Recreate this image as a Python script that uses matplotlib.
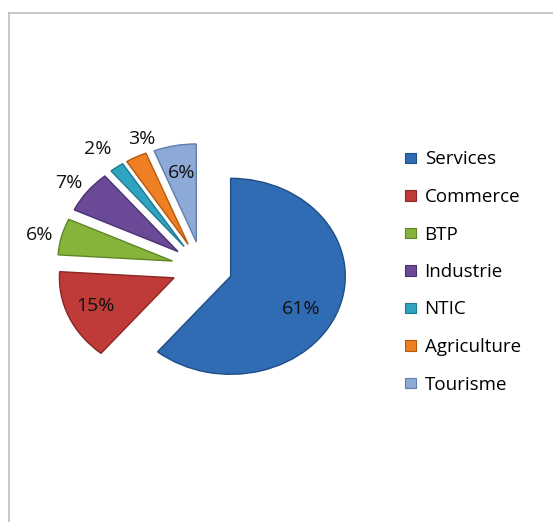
import matplotlib.pyplot as plt
from matplotlib.lines import Line2D
import numpy as np

secteurs = ['Services', 'Commerce', 'BTP', 'Industrie', 'NTIC', 'Agriculture', 'Tourisme']
parts = [61, 15, 6, 7, 2, 3, 6]
couleurs = ['#2F6CB4', '#BE3B38', '#86B43A', '#6A4A97', '#2FA3C0', '#EE7F22', '#8DAAD6']
bords = ['#1F4E85', '#8A2624', '#5F8526', '#4B3272', '#1F7A91', '#B35A10', '#5F7FAF']
# placement of each percent label from the slice tip: radii and angle shift (deg)
dist_labels = [0.70, 0.74, 1.19, 1.18, 1.25, 1.15, 0.72]
decal_labels = [-8.7, -0.6, 1.5, 1.7, 1.3, -6.3, -0.3]

W, H = 553, 522
sx = 1.17  # horizontal stretch of the tilted pie

fig = plt.figure(figsize=(W / 100, H / 100), dpi=100)
fig.patch.set_facecolor('white')
plt.rcParams['font.family'] = ['Open Sans', 'DejaVu Sans']

# frame of the chart area (only top and left edges are visible)
fig.add_artist(Line2D([9 / W, 9 / W], [0, 1 - 13 / H], color='#BDBDBD', lw=1.2))
fig.add_artist(Line2D([9 / W, 1], [1 - 13 / H, 1 - 13 / H], color='#BDBDBD', lw=1.2))

ax = fig.add_axes([0, 0, 1, 1])
r = 98
centre = (202 / sx, H - 267.5)
wedges, _ = ax.pie(parts, colors=couleurs, startangle=90, counterclock=False,
                   radius=r, center=centre, explode=[26] * len(parts),
                   wedgeprops=dict(linewidth=1.0))
ax.set_xlim(0, W / sx)
ax.set_ylim(0, H)
ax.set_aspect('auto')
ax.axis('off')

for w, b, v, d, da in zip(wedges, bords, parts, dist_labels, decal_labels):
    w.set_edgecolor(b)
    ang = np.deg2rad((w.theta1 + w.theta2) / 2 + da)
    cx, cy = w.center
    ax.text(cx + d * r * np.cos(ang), cy + d * r * np.sin(ang), f'{v}%',
            ha='center', va='center', fontsize=14, color='#111111')

handles = [plt.Rectangle((0, 0), 1, 1, facecolor=c, edgecolor=b, lw=0.8)
           for c, b in zip(couleurs, bords)]
fig.legend(handles, secteurs, loc='upper left', bbox_to_anchor=(397 / W, 1 - 143 / H),
           frameon=False, fontsize=13.5, handlelength=0.62, handleheight=0.5,
           handletextpad=0.45, labelspacing=1.04, borderaxespad=0)

fig.savefig('out.png', dpi=100, facecolor='white')
